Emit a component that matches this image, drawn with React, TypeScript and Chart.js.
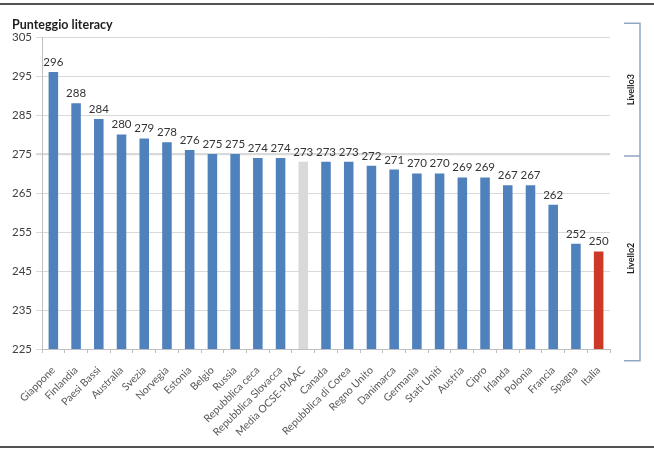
import React, { useEffect, useRef } from 'react';
import { Chart, registerables } from 'chart.js';
Chart.register(...registerables);

const categories = [
  'Giappone', 'Finlandia', 'Paesi Bassi', 'Australia', 'Svezia', 'Norvegia', 'Estonia', 'Belgio',
  'Russia', 'Repubblica ceca', 'Repubblica Slovacca', 'Media OCSE-PIAAC', 'Canada',
  'Repubblica di Corea', 'Regno Unito', 'Danimarca', 'Germania', 'Stati Uniti', 'Austria',
  'Cipro', 'Irlanda', 'Polonia', 'Francia', 'Spagna', 'Italia',
];
const scores = [296, 288, 284, 280, 279, 278, 276, 275, 275, 274, 274, 273, 273, 273, 272, 271, 270, 270, 269, 269, 267, 267, 262, 252, 250];
const yTicks = [225, 235, 245, 255, 265, 275, 285, 295, 305];
const title = 'Punteggio literacy';
const levelNames = ['Livello3', 'Livello2'];
const levelBreaks = [308.5, 274.5, 222];

const FONT = 'Lato, "Open Sans", sans-serif';

const barColor = (name: string) =>
  name === 'Italia' ? '#CC3A27' : name === 'Media OCSE-PIAAC' ? '#D9D9D9' : '#4F81BD';

const decor = {
  id: 'decor',
  afterDraw(chart: any) {
    const ctx = chart.ctx;
    const y = chart.scales.y;
    ctx.save();
    // frame lines
    ctx.strokeStyle = '#1a1a1a';
    ctx.lineWidth = 1.5;
    ctx.beginPath();
    ctx.moveTo(0, 4); ctx.lineTo(654, 4);
    ctx.moveTo(0, 447); ctx.lineTo(654, 447);
    ctx.stroke();
    // title
    ctx.fillStyle = '#1f1f1f';
    ctx.font = `bold 12.5px ${FONT}`;
    ctx.textAlign = 'left';
    ctx.textBaseline = 'middle';
    ctx.fillText(title, 12, 25);
    // data labels
    const meta = chart.getDatasetMeta(0);
    ctx.font = `11.5px ${FONT}`;
    ctx.fillStyle = '#333333';
    ctx.textAlign = 'center';
    ctx.textBaseline = 'bottom';
    meta.data.forEach((el: any, i: number) => {
      ctx.fillText(String(scores[i]), el.x, el.y - 4);
    });
    // brackets
    const bx = 640, bl = 624;
    const p = levelBreaks.map((v) => y.getPixelForValue(v));
    ctx.strokeStyle = '#8FA6C4';
    ctx.lineWidth = 1.5;
    ctx.beginPath();
    ctx.moveTo(bl, p[0]); ctx.lineTo(bx, p[0]); ctx.lineTo(bx, p[2]); ctx.lineTo(bl, p[2]);
    ctx.moveTo(bl, p[1]); ctx.lineTo(bx, p[1]);
    ctx.stroke();
    ctx.fillStyle = '#1f1f1f';
    ctx.font = `bold 9px ${FONT}`;
    ctx.textAlign = 'center';
    ctx.textBaseline = 'middle';
    for (let i = 0; i < 2; i++) {
      const cy = (p[i] + p[i + 1]) / 2;
      ctx.save();
      ctx.translate(631, cy);
      ctx.rotate(-Math.PI / 2);
      ctx.fillText(levelNames[i], 0, 0);
      ctx.restore();
    }
    ctx.restore();
  },
};

export default function App() {
  const ref = useRef<HTMLCanvasElement>(null);
  useEffect(() => {
    if (!ref.current) return;
    const chart = new Chart(ref.current, {
      type: 'bar',
      data: {
        labels: categories,
        datasets: [{
          data: scores,
          backgroundColor: categories.map(barColor),
          barPercentage: 0.42,
          categoryPercentage: 1,
        }],
      },
      options: {
        animation: false,
        responsive: false,
        layout: { padding: { left: 0, right: 44, top: 37, bottom: 0 } },
        plugins: { legend: { display: false }, tooltip: { enabled: false } },
        scales: {
          x: {
            grid: { drawOnChartArea: false, drawTicks: true, tickLength: 4, color: '#BFBFBF' },
            border: { color: '#BFBFBF' },
            ticks: {
              autoSkip: false, maxRotation: 45, minRotation: 45, padding: 11,
              color: '#595959', font: { family: FONT, size: 10.5 },
            },
            afterFit: (s: any) => { s.height = 104; },
          },
          y: {
            min: 225, max: 305,
            afterBuildTicks: (s: any) => { s.ticks = yTicks.map((v) => ({ value: v })); },
            grid: {
              color: '#D9D9D9',
              lineWidth: (c: any) => (c.tick && c.tick.value === 275 ? 2.2 : 1),
              tickLength: 6,
            },
            border: { color: '#BFBFBF' },
            ticks: { padding: 4, color: '#404040', font: { family: FONT, size: 11.5 } },
            afterFit: (s: any) => { s.width = 42; },
          },
        },
      },
      plugins: [decor],
    });
    return () => chart.destroy();
  }, []);
  return (
    <div style={{ position: 'fixed', left: 0, top: 0, width: 654, height: 453, background: '#fff' }}>
      <canvas ref={ref} width={654} height={453} style={{ display: 'block' }} />
    </div>
  );
}
